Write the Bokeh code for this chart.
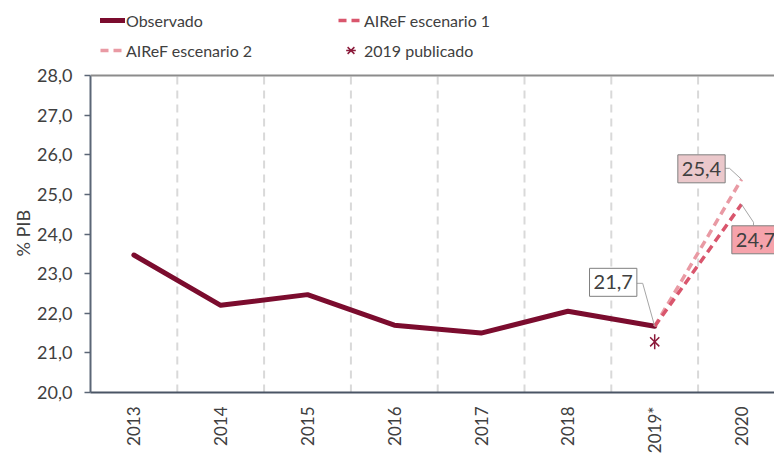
import math
from bokeh.plotting import figure
from bokeh.models import (Legend, LegendItem, FixedTicker, CustomJSTickFormatter,
                          Label, Range1d, Span, Title)
from bokeh.embed import file_html
from bokeh.resources import INLINE

# ---------------- data ----------------
years = ["2013", "2014", "2015", "2016", "2017", "2018", "2019*", "2020"]
observado = [23.47, 22.2, 22.47, 21.7, 21.5, 22.05, 21.67]
escenario1 = [21.67, 24.75]
escenario2 = [21.67, 25.38]
publicado_2019 = [21.28]
label_obs = "21,7"
label_esc1 = "24,7"
label_esc2 = "25,4"
y_ticks = [20, 21, 22, 23, 24, 25, 26, 27, 28]
y_title = "% PIB"

# ---------------- style ----------------
FONT = "Lato"
TXT = "#404040"
C_OBS = "#7b0c2e"
C_E1 = "#d9566d"
C_E2 = "#e99aa4"
C_PUB = "#8b1a3a"

W, H = 774, 457
LEFT, BOTTOM = 90, 65
PLOT_TOP_PX = 75               # where the value 28 sits, from the top of the figure
FRAME_W = W - LEFT
FRAME_H = H - BOTTOM           # frame runs to the top of the figure (legend lives inside)
PX_X = 86.8                    # px per category
X0 = -0.5
X1 = X0 + FRAME_W / PX_X
Y0, Y1 = y_ticks[0], y_ticks[-1]
PX_Y = (FRAME_H - PLOT_TOP_PX) / (Y1 - Y0)
YTOP = Y1 + PLOT_TOP_PX / PX_Y

xs = list(range(len(years)))

p = figure(width=W, height=H, output_backend="svg", toolbar_location=None,
           x_range=Range1d(X0, X1), y_range=Range1d(Y0, YTOP),
           min_border_left=LEFT, min_border_top=0, min_border_bottom=BOTTOM,
           min_border_right=0)
p.outline_line_color = None
p.background_fill_color = "white"
p.border_fill_color = "white"
p.xgrid.grid_line_color = None
p.ygrid.grid_line_color = None

# vertical dashed separators between categories, limited to the value range
sep = [i + 0.5 for i in xs[:-1]]
p.segment(x0=sep, y0=[Y0] * len(sep), x1=sep, y1=[Y1] * len(sep),
          line_color="#d9d9d9", line_width=2, line_dash="8 6")

# top border line
p.add_layout(Span(location=Y1, dimension="width", line_color="#8c8c8c", line_width=2))

# x axis
xa = p.xaxis[0]
xa.ticker = FixedTicker(ticks=xs)
xa.major_label_overrides = {i: y for i, y in enumerate(years)}
xa.major_label_orientation = math.pi / 2
xa.major_tick_line_color = None
xa.major_tick_out = 0
xa.major_tick_in = 0
xa.minor_tick_line_color = None
xa.axis_line_color = "#4a5565"
xa.axis_line_width = 2
xa.major_label_text_font = FONT
xa.major_label_text_font_size = "17px"
xa.major_label_text_color = TXT
xa.major_label_standoff = 14

# y axis
ya = p.yaxis[0]
ya.bounds = (Y0, Y1)
ya.ticker = FixedTicker(ticks=y_ticks)
ya.formatter = CustomJSTickFormatter(code="return tick.toFixed(1).replace('.', ',');")
ya.axis_line_color = "#5b6676"
ya.axis_line_width = 2
ya.major_tick_line_color = "#5b6676"
ya.major_tick_line_width = 1.5
ya.major_tick_in = 0
ya.major_tick_out = 6
ya.minor_tick_line_color = None
ya.major_label_text_font = FONT
ya.major_label_text_font_size = "18px"
ya.major_label_text_color = TXT
ya.major_label_standoff = 12

# y title, placed beside the value range (centred on 20..28, not on the whole frame)
p.add_layout(Title(text=y_title, align="left", offset=136, standoff=2,
                   text_font=FONT, text_font_size="18px", text_font_style="normal",
                   text_color=TXT), "left")

# series
r_obs = p.line(xs[:len(observado)], observado, line_color=C_OBS, line_width=5,
               line_join="round", line_cap="round")
r_e2 = p.line(xs[6:8], escenario2, line_color=C_E2, line_width=3.5, line_dash="8 5")
r_e1 = p.line(xs[6:8], escenario1, line_color=C_E1, line_width=3.5, line_dash="8 5")
r_pub1 = p.scatter([xs[6]], publicado_2019, marker="x", size=13, line_color=C_PUB, line_width=1.5)
r_pub2 = p.scatter([xs[6]], publicado_2019, marker="dash", angle=math.pi / 2, size=15,
                   line_color=C_PUB, line_width=1.5)


def off(x, y, dx, dy):
    return x + dx / PX_X, y + dy / PX_Y


def leader(x, y, pts):
    lx, ly = [], []
    for dx, dy in pts:
        a, b = off(x, y, dx, dy)
        lx.append(a)
        ly.append(b)
    p.line(lx, ly, line_color="#a6a6a6", line_width=1)


def box(x, y, dx, dy, text, fill):
    p.add_layout(Label(x=x, y=y, x_offset=dx, y_offset=dy, text=text,
                       text_align="center", text_baseline="middle",
                       text_font=FONT, text_font_size="20px", text_color=TXT,
                       background_fill_color=fill, border_line_color="#7f7f7f",
                       border_line_width=1, padding=(4, 7)))


# label 21,7
leader(xs[6], observado[-1], [(0, 0), (-12, 43), (-19, 43)])
box(xs[6], observado[-1], -41.5, 44, label_obs, "white")
# label 25,4
leader(xs[7], escenario2[-1], [(0, 0), (-12, 11), (-17, 11)])
box(xs[7], escenario2[-1], -40, 10.5, label_esc2, "#ebc8cb")
# label 24,7
leader(xs[7], escenario1[-1], [(0, 0), (12, -18), (12, -21)])
box(xs[7], escenario1[-1], 14, -35.5, label_esc1, "#f6a3ab")

# legend (inside the frame, above the value area)
LEG_H = 24 * 2 + 6
legend = Legend(items=[
    LegendItem(label="Observado", renderers=[r_obs]),
    LegendItem(label="AIReF escenario 1", renderers=[r_e1]),
    LegendItem(label="AIReF escenario 2", renderers=[r_e2]),
    LegendItem(label="2019 publicado", renderers=[r_pub1, r_pub2]),
], location=(10, FRAME_H - 8 - LEG_H), orientation="horizontal", ncols=2,
    glyph_width=25, glyph_height=24, label_height=24, label_width=206,
    label_standoff=1, spacing=6, padding=0, margin=0,
    border_line_color=None, background_fill_alpha=0,
    label_text_font=FONT, label_text_font_size="16px", label_text_color=TXT)
p.add_layout(legend, "center")

open("out.html", "w").write(file_html(p, INLINE))
